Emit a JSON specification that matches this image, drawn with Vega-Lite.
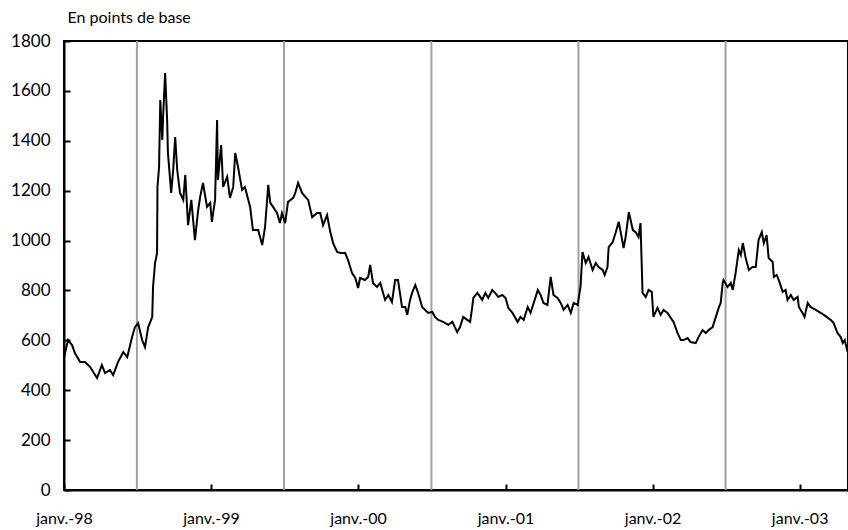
{
  "$schema": "https://vega.github.io/schema/vega-lite/v6.json",
  "width": 784,
  "height": 449,
  "autosize": "none",
  "padding": {"left": 64, "top": 41, "right": 0, "bottom": 40},
  "background": "white",
  "config": {"view": {"stroke": "black", "strokeWidth": 2}, "font": "Lato"},
  "datasets": {
    "julys": [{"d": "1998-07-01"}, {"d": "1999-07-01"}, {"d": "2000-07-01"}, {"d": "2001-07-01"}, {"d": "2002-07-01"}],
    "spread": [
      {"date": "1998-01-01", "v": 530}, {"date": "1998-01-11", "v": 601}, {"date": "1998-01-21", "v": 581}, {"date": "1998-01-28", "v": 549},
      {"date": "1998-02-10", "v": 513}, {"date": "1998-02-22", "v": 513}, {"date": "1998-03-07", "v": 493}, {"date": "1998-03-24", "v": 449},
      {"date": "1998-04-05", "v": 501}, {"date": "1998-04-13", "v": 469}, {"date": "1998-04-25", "v": 481}, {"date": "1998-05-03", "v": 461},
      {"date": "1998-05-15", "v": 513}, {"date": "1998-05-28", "v": 553}, {"date": "1998-06-07", "v": 533}, {"date": "1998-06-19", "v": 613},
      {"date": "1998-06-26", "v": 653}, {"date": "1998-07-04", "v": 669}, {"date": "1998-07-14", "v": 601}, {"date": "1998-07-21", "v": 573},
      {"date": "1998-07-29", "v": 653}, {"date": "1998-08-08", "v": 693}, {"date": "1998-08-10", "v": 814}, {"date": "1998-08-15", "v": 910},
      {"date": "1998-08-20", "v": 950}, {"date": "1998-08-21", "v": 1215}, {"date": "1998-08-25", "v": 1295}, {"date": "1998-08-28", "v": 1563},
      {"date": "1998-09-02", "v": 1403}, {"date": "1998-09-04", "v": 1496}, {"date": "1998-09-09", "v": 1672}, {"date": "1998-09-14", "v": 1483},
      {"date": "1998-09-16", "v": 1351}, {"date": "1998-09-24", "v": 1191}, {"date": "1998-09-29", "v": 1283}, {"date": "1998-10-04", "v": 1415},
      {"date": "1998-10-09", "v": 1283}, {"date": "1998-10-16", "v": 1191}, {"date": "1998-10-24", "v": 1163}, {"date": "1998-10-29", "v": 1263},
      {"date": "1998-11-05", "v": 1062}, {"date": "1998-11-13", "v": 1163}, {"date": "1998-11-22", "v": 1002}, {"date": "1998-11-30", "v": 1122},
      {"date": "1998-12-05", "v": 1175}, {"date": "1998-12-12", "v": 1231}, {"date": "1998-12-22", "v": 1135}, {"date": "1998-12-30", "v": 1151},
      {"date": "1999-01-03", "v": 1075}, {"date": "1999-01-11", "v": 1163}, {"date": "1999-01-16", "v": 1483}, {"date": "1999-01-18", "v": 1243},
      {"date": "1999-01-26", "v": 1383}, {"date": "1999-01-31", "v": 1215}, {"date": "1999-02-10", "v": 1255}, {"date": "1999-02-17", "v": 1171},
      {"date": "1999-02-25", "v": 1215}, {"date": "1999-03-02", "v": 1351}, {"date": "1999-03-09", "v": 1295}, {"date": "1999-03-19", "v": 1203},
      {"date": "1999-03-26", "v": 1215}, {"date": "1999-04-08", "v": 1135}, {"date": "1999-04-15", "v": 1042}, {"date": "1999-04-28", "v": 1042},
      {"date": "1999-05-08", "v": 982}, {"date": "1999-05-15", "v": 1054}, {"date": "1999-05-23", "v": 1223}, {"date": "1999-05-28", "v": 1151},
      {"date": "1999-06-04", "v": 1135}, {"date": "1999-06-14", "v": 1110}, {"date": "1999-06-21", "v": 1070}, {"date": "1999-06-26", "v": 1110},
      {"date": "1999-07-04", "v": 1070}, {"date": "1999-07-11", "v": 1155}, {"date": "1999-07-24", "v": 1171}, {"date": "1999-07-29", "v": 1191},
      {"date": "1999-08-05", "v": 1231}, {"date": "1999-08-15", "v": 1191}, {"date": "1999-08-23", "v": 1175}, {"date": "1999-08-30", "v": 1163},
      {"date": "1999-09-09", "v": 1094}, {"date": "1999-09-21", "v": 1110}, {"date": "1999-09-29", "v": 1110}, {"date": "1999-10-06", "v": 1062},
      {"date": "1999-10-16", "v": 1102}, {"date": "1999-10-24", "v": 1034}, {"date": "1999-10-31", "v": 990}, {"date": "1999-11-10", "v": 954},
      {"date": "1999-11-18", "v": 950}, {"date": "1999-11-30", "v": 950}, {"date": "1999-12-07", "v": 922}, {"date": "1999-12-17", "v": 870},
      {"date": "1999-12-25", "v": 850}, {"date": "2000-01-01", "v": 810}, {"date": "2000-01-06", "v": 850}, {"date": "2000-01-18", "v": 842},
      {"date": "2000-01-26", "v": 854}, {"date": "2000-01-31", "v": 902}, {"date": "2000-02-07", "v": 830}, {"date": "2000-02-17", "v": 814},
      {"date": "2000-02-25", "v": 830}, {"date": "2000-03-08", "v": 762}, {"date": "2000-03-16", "v": 782}, {"date": "2000-03-25", "v": 754},
      {"date": "2000-04-02", "v": 842}, {"date": "2000-04-09", "v": 842}, {"date": "2000-04-19", "v": 734}, {"date": "2000-04-27", "v": 734},
      {"date": "2000-05-02", "v": 702}, {"date": "2000-05-09", "v": 762}, {"date": "2000-05-14", "v": 790}, {"date": "2000-05-22", "v": 822},
      {"date": "2000-05-29", "v": 790}, {"date": "2000-06-08", "v": 734}, {"date": "2000-06-15", "v": 722}, {"date": "2000-06-23", "v": 710},
      {"date": "2000-07-03", "v": 714}, {"date": "2000-07-10", "v": 694}, {"date": "2000-07-18", "v": 682}, {"date": "2000-07-30", "v": 674},
      {"date": "2000-08-12", "v": 662}, {"date": "2000-08-22", "v": 674}, {"date": "2000-09-03", "v": 633}, {"date": "2000-09-10", "v": 653},
      {"date": "2000-09-18", "v": 694}, {"date": "2000-09-28", "v": 682}, {"date": "2000-10-05", "v": 674}, {"date": "2000-10-10", "v": 730},
      {"date": "2000-10-13", "v": 770}, {"date": "2000-10-23", "v": 790}, {"date": "2000-10-30", "v": 774}, {"date": "2000-11-04", "v": 762},
      {"date": "2000-11-12", "v": 790}, {"date": "2000-11-19", "v": 770}, {"date": "2000-11-29", "v": 802}, {"date": "2000-12-06", "v": 790},
      {"date": "2000-12-14", "v": 774}, {"date": "2000-12-24", "v": 782}, {"date": "2001-01-01", "v": 770}, {"date": "2001-01-08", "v": 730},
      {"date": "2001-01-18", "v": 710}, {"date": "2001-01-31", "v": 674}, {"date": "2001-02-07", "v": 694}, {"date": "2001-02-15", "v": 682},
      {"date": "2001-02-25", "v": 734}, {"date": "2001-03-04", "v": 710}, {"date": "2001-03-12", "v": 750}, {"date": "2001-03-22", "v": 802},
      {"date": "2001-03-29", "v": 782}, {"date": "2001-04-05", "v": 750}, {"date": "2001-04-15", "v": 742}, {"date": "2001-04-23", "v": 854},
      {"date": "2001-04-30", "v": 782}, {"date": "2001-05-10", "v": 770}, {"date": "2001-05-18", "v": 750}, {"date": "2001-05-25", "v": 722},
      {"date": "2001-06-04", "v": 742}, {"date": "2001-06-12", "v": 710}, {"date": "2001-06-19", "v": 750}, {"date": "2001-06-29", "v": 742},
      {"date": "2001-07-06", "v": 814}, {"date": "2001-07-11", "v": 954}, {"date": "2001-07-19", "v": 910}, {"date": "2001-07-26", "v": 934},
      {"date": "2001-08-05", "v": 882}, {"date": "2001-08-13", "v": 910}, {"date": "2001-08-20", "v": 894}, {"date": "2001-08-30", "v": 882},
      {"date": "2001-09-04", "v": 862}, {"date": "2001-09-11", "v": 894}, {"date": "2001-09-14", "v": 974}, {"date": "2001-09-24", "v": 994},
      {"date": "2001-10-01", "v": 1030}, {"date": "2001-10-09", "v": 1075}, {"date": "2001-10-21", "v": 970}, {"date": "2001-10-26", "v": 1014},
      {"date": "2001-11-03", "v": 1114}, {"date": "2001-11-13", "v": 1042}, {"date": "2001-11-20", "v": 1034}, {"date": "2001-11-27", "v": 1014},
      {"date": "2001-12-02", "v": 1070}, {"date": "2001-12-07", "v": 790}, {"date": "2001-12-15", "v": 774}, {"date": "2001-12-22", "v": 802},
      {"date": "2001-12-30", "v": 794}, {"date": "2002-01-03", "v": 694}, {"date": "2002-01-13", "v": 730}, {"date": "2002-01-21", "v": 702},
      {"date": "2002-01-28", "v": 722}, {"date": "2002-02-07", "v": 710}, {"date": "2002-02-15", "v": 690}, {"date": "2002-02-22", "v": 674},
      {"date": "2002-03-04", "v": 629}, {"date": "2002-03-12", "v": 601}, {"date": "2002-03-19", "v": 601}, {"date": "2002-03-29", "v": 609},
      {"date": "2002-04-05", "v": 593}, {"date": "2002-04-18", "v": 589}, {"date": "2002-04-25", "v": 613}, {"date": "2002-05-05", "v": 641},
      {"date": "2002-05-13", "v": 629}, {"date": "2002-05-20", "v": 641}, {"date": "2002-05-30", "v": 653}, {"date": "2002-06-07", "v": 694},
      {"date": "2002-06-14", "v": 730}, {"date": "2002-06-19", "v": 750}, {"date": "2002-06-24", "v": 830}, {"date": "2002-06-26", "v": 842},
      {"date": "2002-07-06", "v": 814}, {"date": "2002-07-14", "v": 830}, {"date": "2002-07-19", "v": 802}, {"date": "2002-07-26", "v": 870},
      {"date": "2002-08-03", "v": 962}, {"date": "2002-08-08", "v": 942}, {"date": "2002-08-13", "v": 990}, {"date": "2002-08-20", "v": 930},
      {"date": "2002-08-28", "v": 882}, {"date": "2002-09-06", "v": 894}, {"date": "2002-09-14", "v": 894}, {"date": "2002-09-21", "v": 1002},
      {"date": "2002-09-29", "v": 1034}, {"date": "2002-10-04", "v": 990}, {"date": "2002-10-11", "v": 1022}, {"date": "2002-10-16", "v": 930},
      {"date": "2002-10-26", "v": 914}, {"date": "2002-10-29", "v": 854}, {"date": "2002-11-05", "v": 862}, {"date": "2002-11-10", "v": 842},
      {"date": "2002-11-20", "v": 794}, {"date": "2002-11-27", "v": 802}, {"date": "2002-12-02", "v": 762}, {"date": "2002-12-10", "v": 782},
      {"date": "2002-12-17", "v": 762}, {"date": "2002-12-27", "v": 774}, {"date": "2002-12-30", "v": 734}, {"date": "2003-01-08", "v": 710},
      {"date": "2003-01-13", "v": 694}, {"date": "2003-01-21", "v": 750}, {"date": "2003-01-28", "v": 734}, {"date": "2003-02-10", "v": 722},
      {"date": "2003-02-22", "v": 710}, {"date": "2003-03-02", "v": 702}, {"date": "2003-03-12", "v": 690}, {"date": "2003-03-19", "v": 682},
      {"date": "2003-03-26", "v": 670}, {"date": "2003-04-05", "v": 629}, {"date": "2003-04-13", "v": 613}, {"date": "2003-04-18", "v": 589},
      {"date": "2003-04-23", "v": 601}, {"date": "2003-04-30", "v": 553}
    ]
  },
  "layer": [
    {
      "data": {"name": "julys"},
      "mark": {"type": "rule", "color": "#a0a0a0", "strokeWidth": 2},
      "encoding": {"x": {"field": "d", "type": "temporal"}}
    },
    {
      "data": {"name": "spread"},
      "mark": {"type": "line", "color": "black", "strokeWidth": 2, "clip": true},
      "encoding": {
        "x": {
          "field": "date",
          "type": "temporal",
          "scale": {"domain": ["1998-01-01", "2003-05-01"]},
          "axis": {
            "title": null,
            "grid": false,
            "values": ["1998-01-01", "1999-01-01", "2000-01-01", "2001-01-01", "2002-01-01", "2003-01-01"],
            "format": "%y",
            "labelExpr": "'janv.-' + datum.label",
            "labelFlush": false,
            "labelOverlap": false,
            "labelFontSize": 16,
            "labelColor": "black",
            "labelPadding": 26,
            "tickSize": -6,
            "tickWidth": 2,
            "tickColor": "black",
            "domainColor": "black",
            "domainWidth": 2
          }
        },
        "y": {
          "field": "v",
          "type": "quantitative",
          "scale": {"domain": [0, 1800], "nice": false},
          "axis": {
            "title": "En points de base",
            "titleAngle": 0,
            "titleAlign": "left",
            "titleBaseline": "alphabetic",
            "titleX": 3,
            "titleY": -19,
            "titleFontSize": 16,
            "titleFontWeight": "normal",
            "titleColor": "black",
            "grid": false,
            "values": [0, 200, 400, 600, 800, 1000, 1200, 1400, 1600, 1800],
            "format": "d",
            "labelFontSize": 17,
            "labelColor": "black",
            "labelPadding": 20,
            "tickSize": -6,
            "tickWidth": 2,
            "tickColor": "black",
            "domainColor": "black",
            "domainWidth": 2
          }
        }
      }
    }
  ]
}
